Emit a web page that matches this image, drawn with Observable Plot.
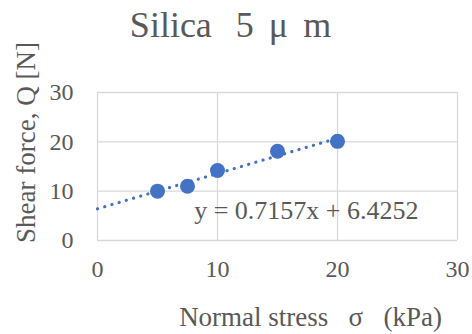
<!DOCTYPE html>
<html><head><meta charset="utf-8">
<script src="https://cdn.jsdelivr.net/npm/d3@7"></script>
<script src="https://cdn.jsdelivr.net/npm/@observablehq/plot@0.6"></script>
<style>body{margin:0;background:#fff;} svg{font-family:"Liberation Serif",serif;}</style>
</head><body><div id="chart"></div>
<script>
const stress = [5, 7.5, 10, 15, 20];
const shear = [10.0, 11.0, 14.2, 18.1, 20.1];
const slope = 0.7157;
const intercept = 6.4252;
const trendX = [0, 20];
const ticks = [0, 10, 20, 30];
const title = "Silica \u2006 5 \u2006μ \u2006m";
const xLabel = "Normal stress\u2002 σ \u2002(kPa)";
const yLabel = "Shear force, Q [N]";
const eqText = "y = 0.7157x + 6.4252";
const eqPos = {x: 17.4, y: 6.0};

const pts = stress.map((x, i) => ({x, y: shear[i]}));
const trend = trendX.map(x => ({x, y: slope * x + intercept}));
const txt = "#595959";
const grid = "#d9d9d9";

const plot = Plot.plot({
  width: 472, height: 334,
  marginLeft: 97, marginRight: 15, marginTop: 92, marginBottom: 94,
  style: {fontFamily: "Liberation Serif, serif", color: txt, background: "#fff"},
  x: {domain: [0, 30], ticks: ticks},
  y: {domain: [0, 30], ticks: ticks},
  marks: [
    Plot.gridX(ticks, {stroke: grid, strokeOpacity: 1, strokeWidth: 1.3}),
    Plot.gridY(ticks, {stroke: grid, strokeOpacity: 1, strokeWidth: 1.3}),
    Plot.axisX(ticks, {tickSize: 0, tickPadding: 19, fontSize: 24, fill: txt, label: null}),
    Plot.axisY(ticks, {tickSize: 0, tickPadding: 24, fontSize: 24, fill: txt, label: null}),
    Plot.line(trend, {x: "x", y: "y", stroke: "#4472C4", strokeWidth: 3.2, strokeDasharray: "0.1 7.4", strokeLinecap: "round"}),
    Plot.dot(pts, {x: "x", y: "y", r: 7.5, fill: "#4472C4", stroke: "none"}),
    Plot.text([eqText], {x: eqPos.x, y: eqPos.y, text: d => d, fontSize: 26, fill: txt}),
    Plot.text([title], {frameAnchor: "top", textAnchor: "middle", lineAnchor: "middle", dx: -47, dy: -67, text: d => d, fontSize: 36, fill: txt}),
    Plot.text([xLabel], {frameAnchor: "bottom", textAnchor: "middle", lineAnchor: "middle", dx: 33, dy: 77, text: d => d, fontSize: 27, fill: txt}),
    Plot.text([yLabel], {frameAnchor: "left", textAnchor: "middle", lineAnchor: "middle", dx: -71, dy: -24, rotate: -90, text: d => d, fontSize: 27, fill: txt})
  ]
});
document.getElementById("chart").appendChild(plot);
</script></body></html>
